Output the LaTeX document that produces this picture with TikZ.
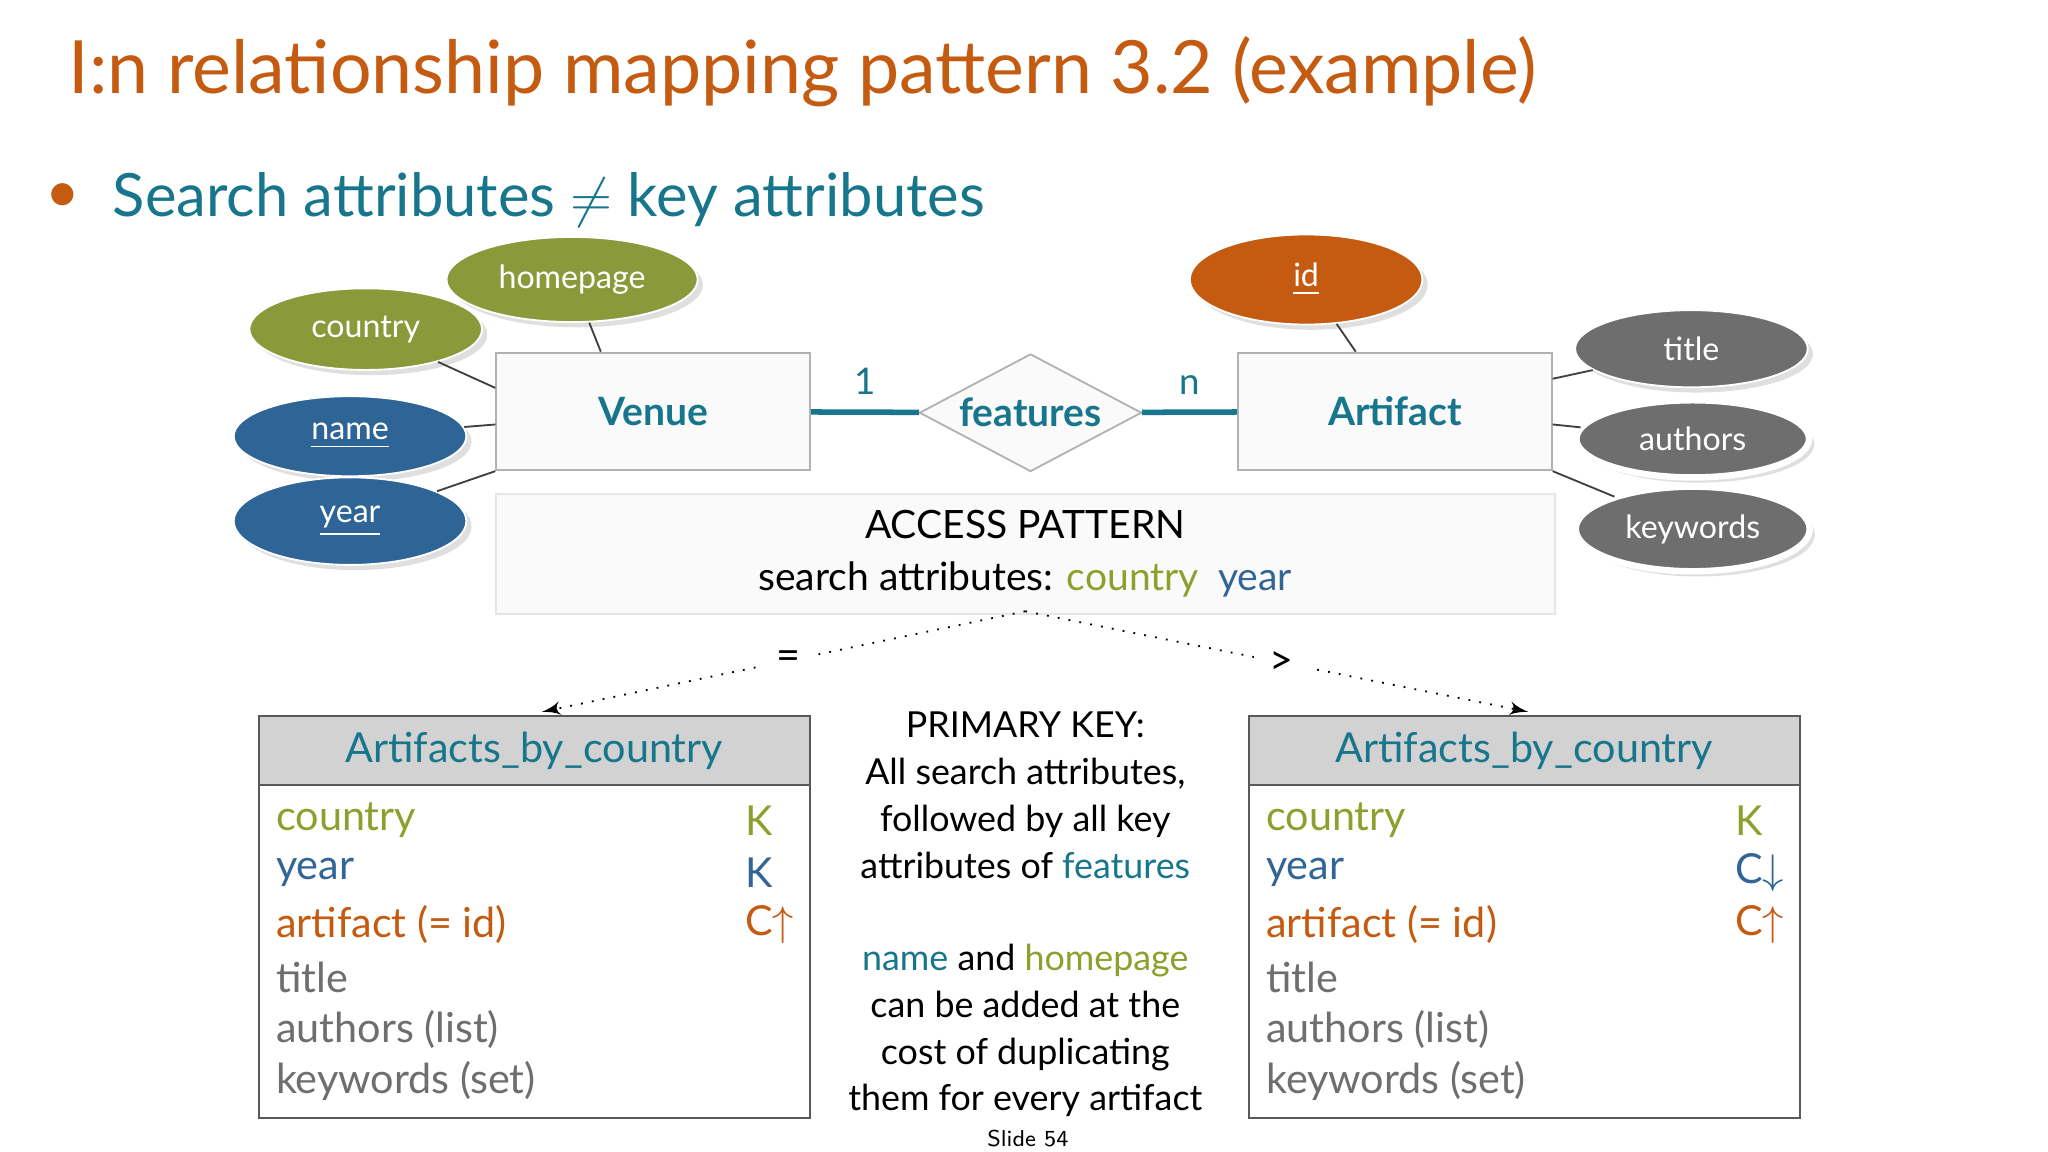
\documentclass[tikz,border=0pt]{standalone}
\usepackage{fontspec}
\setmainfont{Lato}
\usetikzlibrary{shapes.geometric,arrows,shadows}
\definecolor{ttl}{RGB}{197,90,17}
\definecolor{teal}{RGB}{23,118,140}
\definecolor{grn}{RGB}{138,154,59}
\definecolor{txgrn}{RGB}{140,160,45}
\definecolor{blu}{RGB}{46,100,150}
\definecolor{txblu}{RGB}{50,100,150}
\definecolor{gry}{RGB}{110,110,110}
\tikzset{
  attr/.style={ellipse, draw=white, fill=#1, text=white, minimum width=1.78cm,
    minimum height=0.58cm, font=\fontsize{7}{8}\selectfont,
    drop shadow={opacity=0.25, shadow xshift=0.04cm, shadow yshift=-0.04cm}},
  entity/.style={rectangle, draw=gray!60, fill=gray!4, minimum width=2.4cm,
    minimum height=0.9cm, text=teal, font=\fontsize{8.5}{10}\selectfont\bfseries},
  link/.style={draw=black!75},
  rel/.style={draw=teal, line width=1.2pt},
  acc/.style={draw, dotted, -latex'},
  row/.style={anchor=west, font=\fontsize{9}{11}\selectfont},
  mid/.style={align=center, font=\fontsize{7.8}{10.2}\selectfont}
}
\begin{document}
\begin{tikzpicture}[x=0.01cm, y=-0.01cm]
  \useasboundingbox [fill=white] (0,0) rectangle (1568,882);
  % headings
  \node [anchor=west, text=ttl, font=\fontsize{16}{19}\selectfont] (title) at (40,55) {I:n relationship mapping pattern 3.2 (example)};
  \node [anchor=west, text=teal, font=\fontsize{13}{16}\selectfont] (bullet) at (74,153) {Search attributes $\neq$ key attributes};
  \node [text=ttl, font=\fontsize{13}{16}\selectfont] (dot) at (48,152) {\textbullet};

  % ER part
  \node [entity] (venue) at (500,315) {Venue};
  \node [entity] (artifact) at (1068,315) {Artifact};
  \node [diamond, draw=gray!60, fill=gray!4, aspect=1.9, minimum width=1.7cm, minimum height=0.9cm,
    inner sep=0pt, text=teal, font=\fontsize{8.5}{10}\selectfont\bfseries] (features) at (789,316) {features};
  \path [rel] (venue) -- node [above, text=teal, font=\fontsize{8}{10}\selectfont] {1} (features);
  \path [rel] (features) -- node [above, text=teal, font=\fontsize{8}{10}\selectfont] {n} (artifact);

  \node [attr=grn] (homepage) at (438,214) {homepage};
  \node [attr=grn] (country) at (280,252) {country};
  \node [attr=blu] (name) at (268,334) {\underline{name}};
  \node [attr=blu] (year) at (268,399) {\underline{year}};
  \node [attr=ttl] (id) at (1000,214) {\underline{id}};
  \node [attr=gry] (ttlattr) at (1295,267) {title};
  \node [attr=gry, double] (authors) at (1296,336) {authors};
  \node [attr=gry, double] (keywords) at (1296,405) {keywords};

  \path [link] (homepage) -- (venue.north west -| 460,0);
  \path [link] (country) -- (venue.west |- 0,297);
  \path [link] (name) -- (venue.west |- 0,325);
  \path [link] (year) -- (venue.south west);
  \path [link] (id) -- (artifact.north west -| 1038,0);
  \path [link] (ttlattr) -- (artifact.east |- 0,290);
  \path [link] (authors) -- (artifact.east |- 0,325);
  \path [link] (keywords) -- (artifact.south east);

  % access pattern
  \node [rectangle, draw=gray!20, fill=gray!4, minimum width=8.1cm, minimum height=0.92cm,
    align=center, font=\fontsize{8.5}{11.4}\selectfont] (access) at (785,424)
    {ACCESS PATTERN\\search attributes: \textcolor{txgrn}{country}\enspace\textcolor{txblu}{year}};

  % tables
  \foreach \tname/\tx in {left/198, right/956} {
    \draw [gray!70!black, fill=gray!35] (\tx,548) rectangle (\tx+422,601);
    \draw [gray!70!black] (\tx,601) rectangle (\tx+422,856);
    \node [text=teal, font=\fontsize{9}{11}\selectfont] (\tname head) at (\tx+211,575) {Artifacts\_by\_country};
    \node [row, text=txgrn] (\tname r1) at (\tx+1,628) {country};
    \node [row, text=txblu] (\tname r2) at (\tx+1,668) {year};
    \node [row, text=ttl] (\tname r3) at (\tx+1,708) {artifact (= id)};
    \node [row, text=gry] (\tname r4) at (\tx+1,748) {title};
    \node [row, text=gry] (\tname r5) at (\tx+1,788) {authors (list)};
    \node [row, text=gry] (\tname r6) at (\tx+1,828) {keywords (set)};
    \node [row, text=txgrn] (\tname k1) at (\tx+360,628) {K};
    \node [row, text=ttl] (\tname k3) at (\tx+360,708) {C$\uparrow$};
  }
  \node [row, text=txblu] (left k2) at (558,668) {K};
  \node [row, text=txblu] (right k2) at (1316,668) {C$\downarrow$};

  \coordinate (split) at (785,468);
  \coordinate (lefttop) at (415,545);
  \coordinate (righttop) at (1170,545);
  \path [acc] (split) -- node [fill=white, font=\fontsize{9}{11}\selectfont, pos=0.49] {=} (lefttop);
  \path [acc] (split) -- node [fill=white, font=\fontsize{9}{11}\selectfont, pos=0.51] {>} (righttop);

  % middle text
  \node [mid] (pk) at (785,609) {PRIMARY KEY:\\All search attributes,\\followed by all key\\attributes of \textcolor{teal}{features}};
  \node [mid] (dup) at (785,789) {\textcolor{teal}{name} and \textcolor{txgrn}{homepage}\\can be added at the\\cost of duplicating\\them for every artifact};
  \node [font=\fontsize{5}{6}\selectfont\sffamily] (slide) at (787,872) {Slide 54};
\end{tikzpicture}
\end{document}
